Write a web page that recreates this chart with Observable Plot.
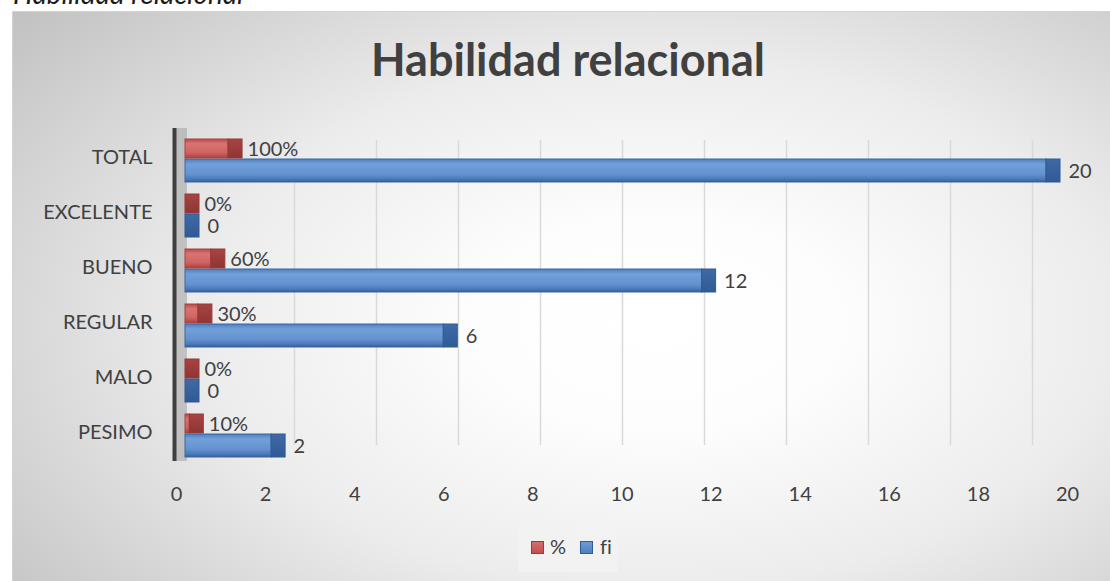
<!DOCTYPE html>
<html>
<head>
<meta charset="utf-8">
<script src="https://cdn.jsdelivr.net/npm/d3@7"></script>
<script src="https://cdn.jsdelivr.net/npm/@observablehq/plot@0.6"></script>
<style>
  html, body { margin: 0; padding: 0; background: #ffffff; }
  body { position: relative; width: 1110px; height: 581px; overflow: hidden; font-family: Lato, "Noto Sans", sans-serif; color: #404040; font-variant-ligatures: none; }
  #caption { position: absolute; left: 13px; top: -21px; font: italic 28px Lato, sans-serif; color: #1a1a1a; line-height: 28px; white-space: nowrap; font-variant-ligatures: none; }
  #frame { position: absolute; left: 12px; top: 11px; width: 1110px; height: 600px; border: 1px solid #d3d3d3;
    background: radial-gradient(ellipse 75% 80% at 58% 52%, #ffffff 0%, #fdfdfd 22%, #ececec 55%, #c2c2c2 100%); }
  #title { position: absolute; left: 0; width: 1136px; top: 37px; text-align: center; font: bold 45px Lato, sans-serif; line-height: 45px; color: #404040; white-space: nowrap; font-variant-ligatures: none; }
  #legend { position: absolute; left: 518px; top: 526px; width: 100px; height: 46px; background: rgba(242,242,242,0.8); }
  .sw { position: absolute; top: 15px; width: 11px; height: 11px; border: 1.5px solid; }
  .lt { position: absolute; top: 8px; font: 20px Lato, sans-serif; color: #404040; line-height: 24px; font-variant-ligatures: none; }
  svg text { font-variant-ligatures: none; }
</style>
</head>
<body>
<div id="caption">Habilidad relacional</div>
<div id="frame"></div>
<div id="title">Habilidad relacional</div>
<div id="legend">
  <div class="sw" style="left:13px; background: linear-gradient(#d46e6c, #c0504d); border-color:#9e3a38;"></div>
  <div class="lt" style="left:32px;">%</div>
  <div class="sw" style="left:62px; background: linear-gradient(#6f9ad6, #4f81bd); border-color:#2f5c98;"></div>
  <div class="lt" style="left:82px;">fi</div>
</div>
<script>
// ---- data ----
const categories = ["TOTAL", "EXCELENTE", "BUENO", "REGULAR", "MALO", "PESIMO"];
const seriesNames = ["%", "fi"];
const pctValues = [1, 0, 0.6, 0.3, 0, 0.1];
const fiValues = [20, 0, 12, 6, 0, 2];
const xTicks = [0, 2, 4, 6, 8, 10, 12, 14, 16, 18, 20];

const fmtPct = d3.format(".0%");
const rows = [];
categories.forEach((c, i) => {
  rows.push({cat: c, series: "%", value: pctValues[i], label: fmtPct(pctValues[i])});
  rows.push({cat: c, series: "fi", value: fiValues[i], label: String(fiValues[i])});
});

const W = 1110, H = 420, TOP = 100;
const baseStyle = (z) => ({
  position: "absolute", left: "0px", top: TOP + "px", background: "transparent",
  overflow: "visible", font: "20px Lato, sans-serif", color: "#404040", zIndex: z
});

// back wall grid (perspective back plane)
const gridPlot = Plot.plot({
  width: W, height: H,
  marginLeft: 212, marginRight: 78, marginTop: 40, marginBottom: 75,
  x: {domain: [0, 20], axis: null},
  style: baseStyle(1),
  marks: [
    Plot.ruleX(xTicks.slice(1), {stroke: "#d9d9d9", strokeWidth: 1.5})
  ]
});

// front floor: axes and side wall
const axisPlot = Plot.plot({
  width: W, height: H,
  marginLeft: 176, marginRight: 43, marginTop: 28, marginBottom: 59,
  x: {domain: [0, 20], ticks: xTicks, tickSize: 0, tickPadding: 25, label: null},
  y: {type: "band", domain: categories, padding: 0, tickSize: 0, tickPadding: 24, label: null},
  style: baseStyle(2),
  marks: [
    Plot.rect([0], {x1: 0, x2: 0, insetRight: -11, fill: "#a6a6a6", fillOpacity: 0.6}),
    Plot.ruleX([0], {stroke: "#3f3f3f", strokeWidth: 4, dx: -2})
  ]
});

// bars (middle plane)
const barPlot = Plot.plot({
  width: W, height: H,
  marginLeft: 185, marginRight: 64, marginTop: 28, marginBottom: 59,
  facet: {data: rows, y: "cat"},
  fy: {domain: categories, padding: 0, axis: null},
  y: {type: "band", domain: seriesNames, padding: 0, axis: null},
  x: {domain: [0, 20], axis: null},
  style: baseStyle(3),
  marks: [
    Plot.barX(rows, {filter: d => d.series === "fi", y: "series", x1: 0, x2: "value", insetTop: 1, insetBottom: 3, fill: "url(#gBlue)", stroke: "#3a67a3", strokeWidth: 1}),
    Plot.barX(rows, {filter: d => d.series === "fi", y: "series", x1: "value", x2: "value", insetTop: 1, insetBottom: 3, insetRight: -14, fill: "url(#gBlueCap)", stroke: "#2f5a94", strokeWidth: 1}),
    Plot.barX(rows, {filter: d => d.series === "%", y: "series", x1: 0, x2: "value", insetTop: 8, insetBottom: 0, fill: "url(#gRed)", stroke: "#a8423f", strokeWidth: 1}),
    Plot.barX(rows, {filter: d => d.series === "%", y: "series", x1: "value", x2: "value", insetTop: 8, insetBottom: 0, insetRight: -14, fill: "url(#gRedCap)", stroke: "#96383a", strokeWidth: 1}),
    Plot.text(rows, {filter: d => d.series === "%", y: "series", x: "value", text: "label", textAnchor: "start", dx: 19, dy: 5, fill: "#404040"}),
    Plot.text(rows, {filter: d => d.series === "fi", y: "series", x: "value", text: "label", textAnchor: "start", dx: 22, dy: 0, fill: "#404040"})
  ]
});

barPlot.insertAdjacentHTML("afterbegin", `
<defs>
  <linearGradient id="gBlue" x1="0" y1="0" x2="0" y2="1">
    <stop offset="0" stop-color="#4f7fc0"/>
    <stop offset="0.22" stop-color="#72a0da"/>
    <stop offset="0.65" stop-color="#6592d0"/>
    <stop offset="0.88" stop-color="#4b79b8"/>
    <stop offset="1" stop-color="#2f5c98"/>
  </linearGradient>
  <linearGradient id="gBlueCap" x1="0" y1="0" x2="0" y2="1">
    <stop offset="0" stop-color="#3f6aa6"/>
    <stop offset="1" stop-color="#2f5a94"/>
  </linearGradient>
  <linearGradient id="gRed" x1="0" y1="0" x2="0" y2="1">
    <stop offset="0" stop-color="#b94a48"/>
    <stop offset="0.25" stop-color="#d87472"/>
    <stop offset="0.7" stop-color="#cf6461"/>
    <stop offset="1" stop-color="#a9433f"/>
  </linearGradient>
  <linearGradient id="gRedCap" x1="0" y1="0" x2="0" y2="1">
    <stop offset="0" stop-color="#a84442"/>
    <stop offset="1" stop-color="#8e3533"/>
  </linearGradient>
</defs>`);

document.body.appendChild(gridPlot);
document.body.appendChild(axisPlot);
document.body.appendChild(barPlot);
</script>
</body>
</html>
